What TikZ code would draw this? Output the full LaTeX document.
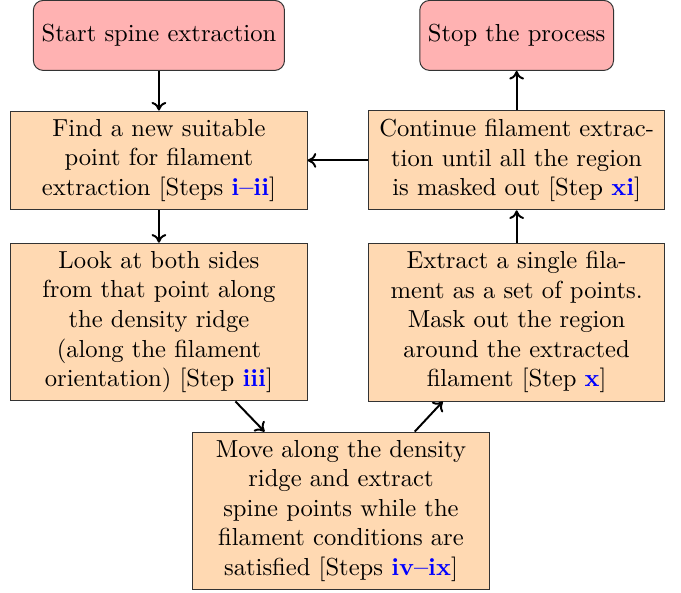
\documentclass[tikz,border=0pt]{standalone}
\usetikzlibrary{arrows.meta}
\definecolor{stepblue}{rgb}{0,0,1}
\newcommand{\stepref}[1]{\textcolor{stepblue}{\textbf{#1}}}
\tikzset{
  endbox/.style={draw=black!80, fill=red!30, rounded corners=4pt,
    minimum height=1cm, align=center},
  procbox/.style={draw=black!80, fill=orange!30, text width=4cm, align=center},
  flow/.style={->, thick, >={To[length=3.5pt,width=6pt]}}
}
\begin{document}
\begin{tikzpicture}[x=1pt, y=1pt]
  \useasboundingbox (0,0) rectangle (276.8,-240.65);

  \node[endbox] (start) at (64.6,-14.4) {Start spine extraction};
  \node[endbox] (stop) at (210.0,-14.4) {Stop the process};

  \node[procbox] (find) at (64.6,-65.2)
    {Find a new suitable\\ point for filament\\ extraction [Steps \stepref{i--ii}]};
  \node[procbox] (cont) at (210.0,-65.2)
    {Continue filament extrac-\\ tion until all the region\\ is masked out [Step \stepref{xi}]};
  \node[procbox] (look) at (64.6,-130.9)
    {Look at both sides\\ from that point along\\ the density ridge\\ (along the filament\\ orientation) [Step \stepref{iii}]};
  \node[procbox] (extr) at (210.0,-130.9)
    {Extract a single fila-\\ ment as a set of points.\\ Mask out the region\\ around the extracted\\ filament [Step \stepref{x}]};
  \node[procbox] (move) at (138.6,-207.7)
    {Move along the density\\ ridge and extract\\ spine points while the\\ filament conditions are\\ satisfied [Steps \stepref{iv--ix}]};

  \draw[flow] (start) -- (find);
  \draw[flow] (find) -- (look);
  \draw[flow] (look) -- (move);
  \draw[flow] (move) -- (extr);
  \draw[flow] (extr) -- (cont);
  \draw[flow] (cont) -- (find);
  \draw[flow] (cont) -- (stop);
\end{tikzpicture}
\end{document}
